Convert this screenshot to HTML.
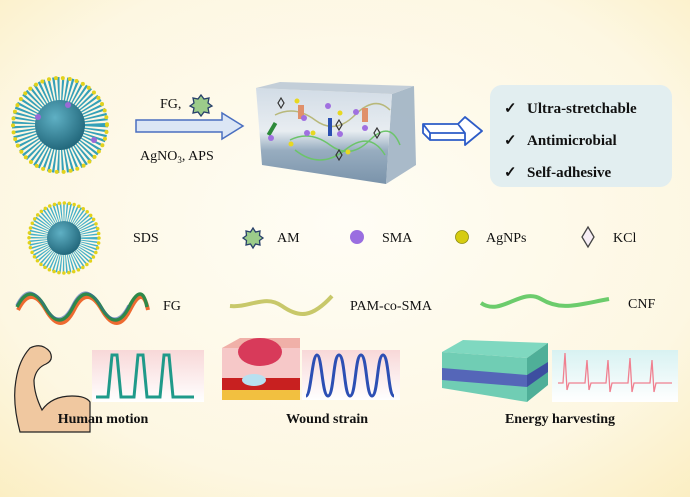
<!DOCTYPE html>
<html><head><meta charset="utf-8"><style>
html,body{margin:0;padding:0}
body{width:690px;height:497px;overflow:hidden;background:#fdf9ea}
svg{display:block}
text{font-family:"Liberation Serif",serif;fill:#111}
</style></head><body>
<svg width="690" height="497" viewBox="0 0 690 497">
<defs>
<radialGradient id="bg" cx="0.5" cy="0.45" r="0.75">
<stop offset="0" stop-color="#fffdf5"/><stop offset="0.7" stop-color="#fdf7e2"/><stop offset="1" stop-color="#fbeec2"/>
</radialGradient>
<radialGradient id="core" cx="0.4" cy="0.35" r="0.7">
<stop offset="0" stop-color="#5fb0c4"/><stop offset="1" stop-color="#1f6478"/>
</radialGradient>
<linearGradient id="gel" x1="0" y1="0" x2="0" y2="1">
<stop offset="0" stop-color="#d2dce6"/><stop offset="0.45" stop-color="#e8edf1"/><stop offset="0.65" stop-color="#98adc0"/><stop offset="1" stop-color="#7a93aa"/>
</linearGradient>
<linearGradient id="pk" x1="0" y1="0" x2="0" y2="1">
<stop offset="0" stop-color="#f8d8d8"/><stop offset="1" stop-color="#ffffff"/>
</linearGradient>
<linearGradient id="cy" x1="0" y1="0" x2="0" y2="1">
<stop offset="0" stop-color="#d8f2f2"/><stop offset="1" stop-color="#ffffff"/>
</linearGradient>
</defs>
<rect width="690" height="497" fill="url(#bg)"/>

<!-- micelle 1 -->
<g>
<circle cx="60" cy="125" r="36" fill="none" stroke="#35a0b8" stroke-width="24" stroke-dasharray="1.8 2"/>
<circle cx="60" cy="125" r="47" fill="none" stroke="#e2d21c" stroke-width="4" stroke-linecap="round" stroke-dasharray="0 7"/>
<circle cx="60" cy="125" r="25" fill="url(#core)"/>
<circle cx="68" cy="105" r="3" fill="#9a6ad6"/><circle cx="94" cy="140" r="3" fill="#9a6ad6"/><circle cx="38" cy="117" r="3" fill="#9a6ad6"/>
</g>
<!-- arrow -->
<polygon points="136,120 222,120 222,113 243,126 222,139 222,132 136,132" fill="#dbe6f5" stroke="#4a6fc0" stroke-width="1.5"/>
<text x="160" y="108" font-size="14">FG,</text>
<polygon points="201,95 204,99 209,98 208,103 212,106 208,108 209,113 204,112 201,116 198,112 193,113 194,108 190,106 194,103 193,98 198,99" fill="#9ccc8a" stroke="#28406a" stroke-width="1.3"/>
<text x="140" y="160" font-size="14">AgNO<tspan font-size="9" dy="3">3</tspan><tspan dy="-3">,  APS</tspan></text>

<!-- hydrogel -->
<polygon points="392,94 414,86 416,165 386,184" fill="#a0b2c4" opacity="0.9"/>
<polygon points="256,88 392,94 386,184 262,165" fill="url(#gel)"/>
<polygon points="256,88 392,94 414,86 280,82" fill="#c3ced8"/>
<path d="M275,115 q20,-10 40,5 t40,-5 t35,-5" stroke="#b8b87a" stroke-width="1.5" fill="none"/>
<path d="M290,140 q20,-10 40,5 t40,-5 t30,5" stroke="#6cc46a" stroke-width="1.5" fill="none"/>
<path d="M295,150 q25,20 50,0 t40,5" stroke="#6cc46a" stroke-width="1.5" fill="none"/>
<rect x="328" y="118" width="4" height="18" fill="#2a4fb0"/>
<rect x="298" y="105" width="6" height="14" fill="#e0906a"/><rect x="362" y="108" width="6" height="14" fill="#e0906a"/>
<rect x="270" y="122" width="4" height="14" fill="#2d8a3a" transform="rotate(30 272 129)"/>
<g fill="#a070e0"><circle cx="328" cy="106" r="3"/><circle cx="304" cy="118" r="3"/><circle cx="356" cy="112" r="3"/><circle cx="365" cy="128" r="3"/><circle cx="340" cy="134" r="3"/><circle cx="307" cy="133" r="3"/><circle cx="271" cy="138" r="3"/></g>
<g fill="#e8d820"><circle cx="297" cy="101" r="2.5"/><circle cx="340" cy="113" r="2.5"/><circle cx="313" cy="133" r="2.5"/><circle cx="291" cy="144" r="2.5"/><circle cx="348" cy="152" r="2.5"/></g>
<g fill="none" stroke="#333" stroke-width="1.2"><path d="M281,98 l3,5 -3,5 -3,-5z"/><path d="M339,120 l3,5 -3,5 -3,-5z"/><path d="M377,128 l3,5 -3,5 -3,-5z"/><path d="M339,150 l3,5 -3,5 -3,-5z"/></g>

<!-- 3d arrow -->
<path d="M423,124 L458,124 L465,117 L482,131 L465,145 L465,140 L430,140 L423,133 Z M423,124 L430,133 L430,140 M430,133 L465,133 L465,140 M458,124 L465,133" fill="#fff" stroke="#2d5cc8" stroke-width="1.8" stroke-linejoin="round"/>

<!-- properties box -->
<rect x="490" y="85" width="182" height="102" rx="12" fill="#e2eef0"/>
<g font-size="15" font-weight="bold">
<text x="504" y="113">✓</text><text x="527" y="113">Ultra-stretchable</text>
<text x="504" y="145">✓</text><text x="527" y="145">Antimicrobial</text>
<text x="504" y="177">✓</text><text x="527" y="177">Self-adhesive</text>
</g>

<!-- row 2 -->
<circle cx="64" cy="238" r="25" fill="none" stroke="#45b0c8" stroke-width="20" stroke-dasharray="1.2 1.4"/>
<circle cx="64" cy="238" r="35" fill="none" stroke="#e2d21c" stroke-width="3.5" stroke-linecap="round" stroke-dasharray="0 5"/>
<circle cx="64" cy="238" r="17" fill="url(#core)"/>
<text x="133" y="242" font-size="14">SDS</text>
<polygon points="253,228 255.5,232 260,231 259.5,235.5 263,238 259.5,240.5 260,245 255.5,244 253,248 250.5,244 246,245 246.5,240.5 243,238 246.5,235.5 246,231 250.5,232" fill="#9ccc8a" stroke="#28406a" stroke-width="1.3"/>
<text x="277" y="242" font-size="14">AM</text>
<circle cx="357" cy="237" r="7" fill="#9a6ee0"/>
<text x="382" y="242" font-size="14">SMA</text>
<circle cx="462" cy="237" r="6.5" fill="#d6cc10" stroke="#8a8a10" stroke-width="0.8"/>
<text x="486" y="242" font-size="14">AgNPs</text>
<path d="M588,227 l6,10 -6,10 -6,-10z" fill="#f7eef5" stroke="#444" stroke-width="1.3"/>
<text x="613" y="242" font-size="14">KCl</text>

<!-- row 3 -->
<path d="M18,310 q13,-26 28,0 t28,0 t28,0 t28,0 t18,0" stroke="#ee6a30" stroke-width="4" fill="none"/>
<path d="M17,307 q13,-26 28,0 t28,0 t28,0 t28,0 t18,0" stroke="#2e8a4a" stroke-width="3.5" fill="none"/>
<path d="M16,305 q13,-26 28,0 t28,0 t28,0 t28,0" stroke="#3a5fb0" stroke-width="1.2" fill="none" opacity="0.6"/>
<text x="163" y="310" font-size="14">FG</text>
<path d="M230,306 c20,2 35,-12 52,0 s30,12 50,-10" stroke="#c8c86a" stroke-width="4" fill="none"/>
<text x="350" y="310" font-size="14">PAM-co-SMA</text>
<path d="M481,303 c20,14 40,-16 60,-4 s35,6 68,0" stroke="#6ccc6c" stroke-width="4" fill="none"/>
<text x="628" y="308" font-size="14">CNF</text>

<!-- row 4 -->
<path d="M30,348 q12,-6 20,4 q4,8 -4,12 q-10,4 -12,16 q0,14 8,30 q10,-14 30,-14 q14,0 18,6 l0,30 l-70,0 q-8,-30 -4,-52 q3,-20 14,-32z" fill="#f0c8a0" stroke="#222" stroke-width="1.2"/>
<rect x="92" y="350" width="112" height="52" fill="url(#pk)"/>
<path d="M96,397 L108,397 L112,355 L117,355 L121,397 L134,397 L138,355 L143,355 L147,397 L160,397 L164,355 L169,355 L173,397 L194,397" stroke="#1f9a8a" stroke-width="3" fill="none"/>
<rect x="222" y="348" width="78" height="52" fill="#f6c8c8"/>
<polygon points="222,348 240,338 300,338 300,348" fill="#f0b0a8"/>
<ellipse cx="260" cy="352" rx="22" ry="14" fill="#d83a5a"/>
<rect x="222" y="378" width="78" height="12" fill="#c82020"/>
<rect x="222" y="390" width="78" height="10" fill="#f2c040"/>
<ellipse cx="254" cy="380" rx="12" ry="6" fill="#b8e0f0"/>
<rect x="302" y="350" width="98" height="50" fill="url(#pk)"/>
<path d="M306,396 C311,396 312,355 317,355 S322,396 328,396 S333,355 339,355 S344,396 350,396 S355,355 361,355 S366,396 372,396 S377,355 383,355 S388,396 394,396" stroke="#2c4fb4" stroke-width="3" fill="none"/>
<polygon points="442,352 463,340 548,343 527,358" fill="#7fd8c0"/>
<polygon points="442,352 527,358 527,402 442,388" fill="#70cdb4"/>
<polygon points="442,368 527,375 527,387 442,380" fill="#5566b8"/>
<polygon points="527,358 548,343 548,385 527,402" fill="#4faf98"/>
<polygon points="527,375 548,362 548,372 527,387" fill="#3d4ea0"/>
<rect x="552" y="350" width="126" height="52" fill="url(#cy)"/>
<path d="M558,383 L563,383 L565,353 L567,390 L569,383 L585,383 L587,360 L589,390 L591,383 L606,383 L608,360 L610,392 L612,383 L628,383 L630,358 L632,392 L634,383 L650,383 L652,360 L654,392 L656,383 L672,383" stroke="#f08090" stroke-width="1.3" fill="none"/>
<g font-size="14" font-weight="bold">
<text x="103" y="423" text-anchor="middle">Human motion</text>
<text x="327" y="423" text-anchor="middle">Wound strain</text>
<text x="560" y="423" text-anchor="middle">Energy harvesting</text>
</g>
</svg>
</body></html>
